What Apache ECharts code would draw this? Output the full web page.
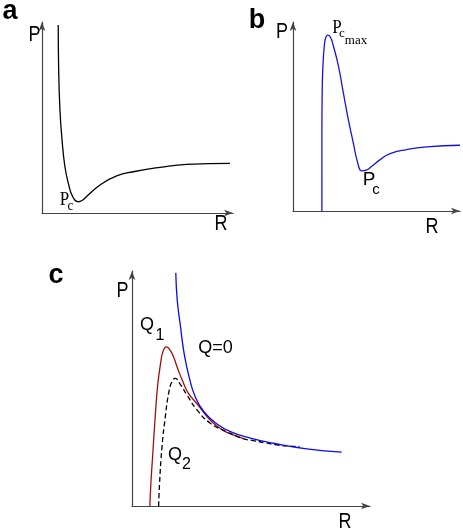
<!DOCTYPE html>
<html>
<head>
<meta charset="utf-8">
<script src="https://cdn.jsdelivr.net/npm/echarts@6/dist/echarts.min.js"></script>
<style>
  body { margin: 0; background: #fff; }
  #chart { width: 463px; height: 531px; }
</style>
</head>
<body>
<div id="chart"></div>
<script>
// panel a: single well, minimum Pc
const aR = [0.85, 0.87, 0.94, 1.05, 1.20, 1.38, 1.61, 1.90, 2.13, 2.42, 3.04, 3.91, 4.78, 6.18, 7.58, 9.84]
const aP = [9.84, 7.66, 5.39, 3.82, 2.42, 1.55, 0.85, 0.59, 0.68, 0.94, 1.47, 1.94, 2.16, 2.39, 2.55, 2.60]

// panel b: Pc_max peak then Pc minimum
const bR = [1.73, 1.73, 1.75, 1.79, 1.87, 1.95, 2.07, 2.23, 2.43, 2.73, 3.02, 3.32, 3.62, 3.86, 4.12, 4.38, 4.72, 5.22, 5.82, 6.81, 8.01, 10.0]
const bP = [0, 4.10, 6.40, 7.63, 8.69, 9.14, 9.31, 9.22, 8.69, 7.63, 6.22, 4.81, 3.57, 2.60, 2.12, 2.16, 2.37, 2.72, 3.04, 3.25, 3.39, 3.48]

// panel c: Q=0, Q1, Q2
const cQ0R = [1.84, 1.90, 2.03, 2.20, 2.41, 2.66, 3.03, 3.57, 4.21, 4.97, 5.94, 7.34, 8.81]
const cQ0P = [9.92, 8.77, 7.70, 6.43, 5.45, 4.64, 4.00, 3.49, 3.13, 2.89, 2.67, 2.43, 2.29]
const cQ1R = [0.75, 0.79, 0.87, 0.98, 1.08, 1.21, 1.31, 1.44, 1.57, 1.73, 1.94, 2.11, 2.36, 2.74, 3.29, 3.83, 4.38, 4.71]
const cQ1P = [0, 0.89, 2.17, 3.87, 5.15, 6.13, 6.60, 6.77, 6.68, 6.38, 5.79, 5.36, 4.81, 4.34, 3.65, 3.22, 2.98, 2.86]
const cQ2R = [1.12, 1.15, 1.26, 1.40, 1.54, 1.68, 1.82, 2.00, 2.31, 2.73, 3.29, 3.99, 4.62, 5.10, 5.59, 6.09, 6.57, 7.04]
const cQ2P = [0, 0.82, 2.52, 3.80, 4.80, 5.29, 5.43, 5.22, 4.72, 4.09, 3.52, 3.16, 2.88, 2.78, 2.69, 2.60, 2.55, 2.53]

const zip = (xs, ys) => xs.map((x, i) => [x, ys[i]])

const SANS = 'Liberation Sans, Arial, sans-serif'
const SERIF = 'Liberation Serif, Times New Roman, serif'

function axis(gridIndex) {
  return {
    type: 'value',
    gridIndex: gridIndex,
    min: 0,
    max: 10,
    axisLine: {
      show: true,
      onZero: false,
      symbol: ['none', 'arrow'],
      symbolSize: [5, 9],
      lineStyle: { color: '#444', width: 1.2 },
    },
    axisTick: { show: false },
    axisLabel: { show: false },
    splitLine: { show: false },
  }
}

function curve(gridIndex, data, color, type) {
  return {
    type: 'line',
    xAxisIndex: gridIndex,
    yAxisIndex: gridIndex,
    data: data,
    smooth: true,
    showSymbol: false,
    silent: true,
    lineStyle: { color: color, width: 1.3, type: type || 'solid' },
  }
}

// stretch: the axis letters in the picture are a bit taller than wide
function txt(x, y, text, size, family, weight, stretch) {
  return {
    type: 'text',
    x: x,
    y: y,
    scaleY: stretch || 1,
    style: {
      text: text,
      font: (weight || 'normal') + ' ' + size + 'px ' + family,
      fill: '#000',
      textAlign: 'center',
      textVerticalAlign: 'middle',
    },
  }
}

const chart = echarts.init(document.getElementById('chart'))
chart.setOption({
  animation: false,
  grid: [
    { left: 42, top: 22, width: 191, height: 191 },
    { left: 293, top: 22, width: 167, height: 189 },
    { left: 132, top: 271, width: 238, height: 235 },
  ],
  xAxis: [axis(0), axis(1), axis(2)],
  yAxis: [axis(0), axis(1), axis(2)],
  series: [
    curve(0, zip(aR, aP), '#000'),
    curve(1, zip(bR, bP), '#1414e0'),
    curve(2, zip(cQ1R, cQ1P), '#a50d0d'),
    curve(2, zip(cQ2R, cQ2P), '#000', [5, 3]),
    curve(2, zip(cQ0R, cQ0P), '#0a0af0'),
  ],
  graphic: [
    // panel letters
    txt(10, 12, 'a', 27, SANS, 'bold'),
    txt(257, 21, 'b', 27, SANS, 'bold'),
    txt(56, 276, 'c', 27, SANS, 'bold'),
    // panel a
    txt(34.5, 35.5, 'P', 18, SANS, 'normal', 1.2),
    txt(221, 224, 'R', 18, SANS, 'normal', 1.2),
    txt(64.5, 200, 'P', 17, SERIF, 'normal', 1.1),
    txt(70.5, 206, 'c', 13, SERIF, 'normal', 1.2),
    // panel b
    txt(282, 32.5, 'P', 18, SANS, 'normal', 1.2),
    txt(432, 227, 'R', 18, SANS, 'normal', 1.2),
    txt(337, 28, 'P', 17, SERIF, 'normal', 1.1),
    txt(342, 34, 'c', 13, SERIF),
    txt(356, 41, 'max', 13, SERIF),
    txt(369, 180, 'P', 19, SANS),
    txt(376, 190, 'c', 15, SANS),
    // panel c
    txt(122.5, 291.5, 'P', 18, SANS, 'normal', 1.2),
    txt(345, 522, 'R', 18, SANS, 'normal', 1.2),
    txt(147, 325, 'Q', 18, SANS),
    txt(160, 336, '1', 16, SANS),
    txt(215.5, 348.5, 'Q=0', 18, SANS),
    txt(175, 455.5, 'Q', 18, SANS),
    txt(186.5, 465, '2', 16, SANS),
  ],
})
</script>
</body>
</html>
